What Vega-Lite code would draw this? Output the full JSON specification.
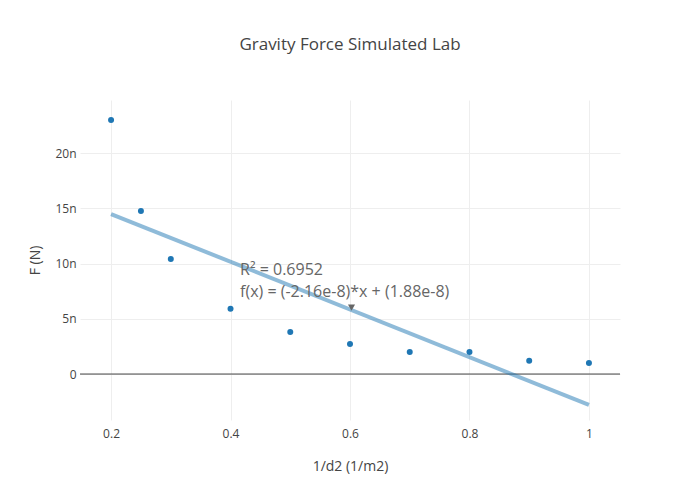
{
  "$schema": "https://vega.github.io/schema/vega-lite/v6.json",
  "width": 540,
  "height": 320,
  "autosize": {"type": "none"},
  "padding": {"left": 80, "top": 100, "right": 80, "bottom": 80},
  "background": "white",
  "title": {"text": "Gravity Force Simulated Lab", "font": "Open Sans", "fontSize": 17, "fontWeight": "normal", "color": "#444", "offset": 46, "anchor": "middle"},
  "config": {"view": {"stroke": null}, "font": "Open Sans"},
  "datasets": {
    "pts": [
      {"x": 0.2, "F": 23.0e-9},
      {"x": 0.25, "F": 14.75e-9},
      {"x": 0.3, "F": 10.4e-9},
      {"x": 0.4, "F": 5.9e-9},
      {"x": 0.5, "F": 3.8e-9},
      {"x": 0.6, "F": 2.72e-9},
      {"x": 0.7, "F": 2.0e-9},
      {"x": 0.8, "F": 2.0e-9},
      {"x": 0.9, "F": 1.2e-9},
      {"x": 1.0, "F": 1.0e-9}
    ],
    "fit": [
      {"x": 0.2, "F": 14.48e-9},
      {"x": 1.0, "F": -2.8e-9}
    ],
    "zero": [{"F": 0}],
    "ann": [
      {"x": 0.416, "F": 9.41e-9, "label": "R² = 0.6952"},
      {"x": 0.416, "F": 7.42e-9, "label": "f(x) = (-2.16e-8)*x + (1.88e-8)"}
    ],
    "arrow": [{"x": 0.604, "F": 6.15e-9}]
  },
  "layer": [
    {
      "data": {"name": "pts"},
      "mark": {"type": "point", "filled": true, "opacity": 1, "size": 36, "color": "#1f77b4"},
      "encoding": {
        "x": {"field": "x", "type": "quantitative", "scale": {"domain": [0.148, 1.052], "nice": false, "zero": false},
          "axis": {"values": [0.2, 0.4, 0.6, 0.8, 1], "format": "~g", "title": "1/d2 (1/m2)", "domain": false, "ticks": false, "grid": true, "gridColor": "#eee", "labelFont": "Open Sans", "labelFontSize": 12, "labelColor": "#444", "labelPadding": 8, "titleFont": "Open Sans", "titleFontSize": 14, "titleFontWeight": "normal", "titleColor": "#444", "titlePadding": 20}},
        "y": {"field": "F", "type": "quantitative", "scale": {"domain": [-4.16e-9, 24.8e-9], "nice": false, "zero": false},
          "axis": {"values": [0, 5e-9, 10e-9, 15e-9, 20e-9], "format": "~s", "labelExpr": "datum.value == 0 ? '0' : datum.label", "title": "F (N)", "domain": false, "ticks": false, "grid": true, "gridColor": "#eee", "labelFont": "Open Sans", "labelFontSize": 12, "labelColor": "#444", "labelPadding": 4, "titleFont": "Open Sans", "titleFontSize": 14, "titleFontWeight": "normal", "titleColor": "#444", "titlePadding": 12}}
      }
    },
    {
      "data": {"name": "zero"},
      "mark": {"type": "rule", "color": "#444", "strokeWidth": 1},
      "encoding": {"y": {"field": "F", "type": "quantitative"}}
    },
    {
      "data": {"name": "fit"},
      "mark": {"type": "line", "color": "#1f77b4", "opacity": 0.5, "strokeWidth": 4},
      "encoding": {
        "x": {"field": "x", "type": "quantitative"},
        "y": {"field": "F", "type": "quantitative"}
      }
    },
    {
      "data": {"name": "arrow"},
      "mark": {"type": "point", "shape": "triangle-up", "filled": true, "color": "#666", "size": 50, "angle": 60, "opacity": 1},
      "encoding": {
        "x": {"field": "x", "type": "quantitative"},
        "y": {"field": "F", "type": "quantitative"}
      }
    },
    {
      "data": {"name": "ann"},
      "mark": {"type": "text", "align": "left", "baseline": "middle", "font": "Open Sans", "fontSize": 16, "color": "#666"},
      "encoding": {
        "x": {"field": "x", "type": "quantitative"},
        "y": {"field": "F", "type": "quantitative"},
        "text": {"field": "label"}
      }
    }
  ]
}
